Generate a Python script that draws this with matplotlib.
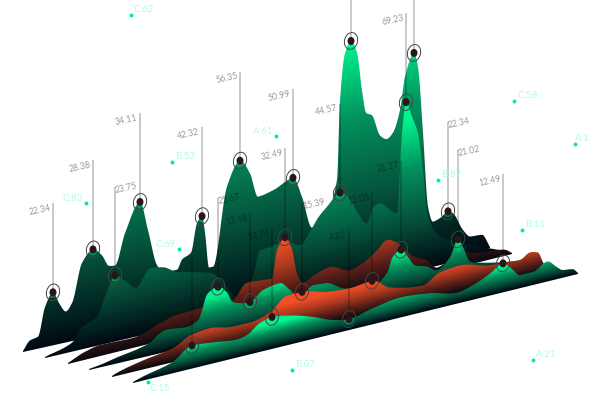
import numpy as np
import matplotlib
matplotlib.use("Agg")
import matplotlib.pyplot as plt
from matplotlib.colors import LinearSegmentedColormap
from matplotlib.patches import Ellipse, Polygon

# ridge outlines: position along the ridge and height above its baseline
r1_x = [23, 30, 38, 45, 53, 59, 66, 72, 82, 93, 102, 109, 115, 125, 140, 148, 157, 165, 177, 182, 191, 197, 202, 205, 209, 213, 227, 240, 250, 258, 273, 293, 302, 312, 325, 337, 340, 345, 351, 357, 362, 366, 372, 380, 387, 393, 400, 405, 414, 418, 423, 428, 433, 440, 448, 453, 463, 470, 482, 490]
r1_h = [0, 9, 11, 39, 52, 40, 30, 37, 75, 86, 78, 66, 65, 95, 123, 93, 56, 47, 47, 56, 61, 89, 95, 78, 42, 42, 119, 142, 127, 102, 105, 113, 92, 59, 69, 101, 180, 226, 237, 224, 185, 162, 158, 136, 131, 136, 157, 189, 211, 196, 129, 54, 38, 40, 45, 42, 23, 15, 14, 0]

r2_x = [45, 72, 82, 97, 105, 115, 123, 137, 143, 150, 163, 177, 193, 213, 227, 238, 246, 253, 260, 270, 285, 300, 312, 318, 327, 340, 348, 358, 367, 373, 380, 388, 397, 402, 406, 412, 418, 423, 428, 438, 450, 470, 490, 500]
r2_h = [0, 8, 21, 28, 46, 65, 59, 48, 56, 64, 62, 54, 50, 44, 27, 15, 20, 31, 56, 57, 60, 52, 66, 75, 84, 95, 89, 70, 58, 72, 75, 68, 61, 140, 170, 154, 136, 98, 52, 30, 22, 12, 4, 0]

r3_x = [68, 85, 100, 133, 140, 160, 177, 203, 220, 233, 247, 260, 272, 277, 285, 292, 297, 303, 317, 330, 350, 363, 377, 387, 398, 402, 415, 427, 437, 447, 463, 477, 495, 505, 512]
r3_h = [0, 7, 10, 9, 10, 17, 21, 22, 20, 22, 36, 35, 34, 61, 72, 58, 33, 22, 28, 31, 23, 27, 36, 44, 38, 33, 20, 14, 4, 7, 12, 9, 7, 5, 0]

r4_x = [89, 100, 117, 140, 150, 160, 167, 187, 198, 208, 218, 227, 233, 250, 263, 280, 290, 300, 313, 327, 343, 360, 375, 387, 393, 401, 408, 415, 427, 437, 450, 458, 463, 470, 482, 500, 520, 525]
r4_h = [0, 1.5, 5, 9, 12, 19, 21, 19, 23, 48, 52, 44, 33, 29, 38, 41, 32, 22, 31, 30, 21, 17, 17, 26, 41, 46, 37, 27, 23, 17, 27, 43, 34, 18, 14, 10, 6, 0]

r5_x = [112, 117, 143, 173, 192, 210, 233, 250, 270, 287, 302, 327, 350, 372, 390, 423, 440, 460, 490, 503, 520, 530, 538, 543, 548]
r5_h = [0, 2, 8, 13, 22, 24, 20, 20, 25, 38, 38, 32, 30, 32, 21, 15, 24, 26, 19, 18, 17, 22, 20, 9, 0]

r6_x = [133, 143, 172, 192, 213, 237, 247, 260, 272, 290, 313, 333, 349, 373, 400, 430, 457, 477, 490, 503, 513, 520, 533, 547, 557, 562, 573, 578]
r6_h = [0, 3, 10, 22, 20, 17, 19, 28, 31, 28, 21, 13, 10, 15, 19, 16, 10, 15, 21, 28, 19, 12, 12, 19, 11, 7, 5, 0]

# pinned values per ridge (empty label = text not visible in the picture)
r1_pin_x = [53, 93, 140, 202, 240, 293, 351, 414, 448]
r1_pin_label = ["22.34", "28.38", "34.11", "42.32", "56.35", "50.99", "", "", "22.34"]
r1_pin_right = [0, 0, 0, 0, 0, 0, 0, 0, 1]
r2_pin_x = [115, 340, 406]
r2_pin_label = ["23.75", "44.57", "69.23"]
r2_pin_right = [1, 0, 0]
r3_pin_x = [285]
r3_pin_label = ["32.49"]
r3_pin_right = [0]
r4_pin_x = [218, 250, 401, 458]
r4_pin_label = ["25.67", "13.48", "21.27", "21.02"]
r4_pin_right = [1, 0, 0, 1]
r5_pin_x = [302, 372]
r5_pin_label = ["15.39", "15.05"]
r5_pin_right = [1, 0]
r6_pin_x = [192, 272, 349, 503]
r6_pin_label = ["", "13.74", "4.82", "12.49"]
r6_pin_right = [0, 0, 0, 0]

# floating points
pt_label = ["C:62", "A:61", "B:53", "C:83", "C:69", "C:58", "A:1", "B:87", "B:11", "A:21", "B:07", "C:15"]
pt_x = [131, 276, 172, 86, 179, 514, 575, 438, 522, 533, 292, 148]
pt_y = [15, 136, 162, 203, 249, 101, 144, 180, 230, 360, 370, 382]
pt_side = ["r", "l", "r", "l", "l", "r", "r", "r", "r", "r", "r", "b"]

green = LinearSegmentedColormap.from_list("g", ["#010a12", "#05523c", "#03905c", "#00f58f"])
red = LinearSegmentedColormap.from_list("r", ["#0c0a10", "#5a1f18", "#b03a20", "#f04e26"])

# start of each baseline, its slope, colormap, share of the peak that reaches the top colour
ridges = [
    (r1_x, r1_h, r1_pin_x, r1_pin_label, r1_pin_right, 351, 0.2227, green, 1.0),
    (r2_x, r2_h, r2_pin_x, r2_pin_label, r2_pin_right, 357, 0.235, green, 0.9),
    (r3_x, r3_h, r3_pin_x, r3_pin_label, r3_pin_right, 363, 0.2477, red, 0.95),
    (r4_x, r4_h, r4_pin_x, r4_pin_label, r4_pin_right, 369, 0.235, green, 0.85),
    (r5_x, r5_h, r5_pin_x, r5_pin_label, r5_pin_right, 376, 0.243, red, 0.8),
    (r6_x, r6_h, r6_pin_x, r6_pin_label, r6_pin_right, 382, 0.245, green, 0.8),
]

plt.rcParams["font.family"] = ["Lato", "DejaVu Sans"]
LEADER = 89


def smooth(x, y, xs):
    # monotone cubic so that peaks do not overshoot
    x = np.asarray(x, float)
    y = np.asarray(y, float)
    d = np.diff(y) / np.diff(x)
    m = np.zeros_like(y)
    for i in range(1, len(y) - 1):
        if d[i - 1] * d[i] > 0:
            w1 = 2 * (x[i + 1] - x[i]) + (x[i] - x[i - 1])
            w2 = (x[i + 1] - x[i]) + 2 * (x[i] - x[i - 1])
            m[i] = (w1 + w2) / (w1 / d[i - 1] + w2 / d[i])
    m[0] = d[0]
    m[-1] = d[-1]
    idx = np.clip(np.searchsorted(x, xs) - 1, 0, len(x) - 2)
    h = x[idx + 1] - x[idx]
    t = (xs - x[idx]) / h
    return (
        (2 * t**3 - 3 * t**2 + 1) * y[idx]
        + (t**3 - 2 * t**2 + t) * h * m[idx]
        + (-2 * t**3 + 3 * t**2) * y[idx + 1]
        + (t**3 - t**2) * h * m[idx + 1]
    )


fig = plt.figure(figsize=(5.9, 4), dpi=100)
ax = fig.add_axes([0, 0, 1, 1])

grid_x, grid_y = np.meshgrid(np.arange(0, 590, 0.5), np.arange(0, 400, 0.5))

for n, (xv, hv, pin_x, pin_label, pin_right, y0, slope, cmap, reach) in enumerate(ridges):
    z = 10 * (n + 1)
    x0 = xv[0]

    def base(v):
        return y0 - slope * (np.asarray(v, float) - x0)

    xs = np.linspace(xv[0], xv[-1], 900)
    hs = np.maximum(smooth(xv, hv, xs), 0)
    top = base(xs) - hs
    outline = np.vstack([np.column_stack([xs, top]), np.column_stack([xs[::-1], base(xs[::-1]) + 1.0])])

    field = (base(grid_x) - grid_y) / (max(hv) * reach)
    im = ax.imshow(field, cmap=cmap, vmin=0, vmax=1, extent=(0, 590, 400, 0), aspect="auto",
                   interpolation="bilinear", zorder=z)
    im.set_clip_path(Polygon(outline, transform=ax.transData))

    for px, label, right in zip(pin_x, pin_label, pin_right):
        py = float(base(px) - smooth(xv, hv, np.array([float(px)]))[0])
        ax.plot([px, px], [py - LEADER, py], color="black", alpha=0.25, lw=1.2, zorder=z + 1, solid_capstyle="butt")
        halo = Ellipse((px, py), 10, 12, angle=15, facecolor="#00f58f" if cmap is green else "#f04e26",
                       alpha=0.35, edgecolor="none", zorder=z + 1.5)
        ax.add_patch(halo)
        halo.set_clip_path(Polygon(outline, transform=ax.transData))
        ax.add_patch(Ellipse((px, py), 7, 8, facecolor="#2a1618", edgecolor="none", zorder=z + 3))
        ax.add_patch(Ellipse((px, py), 13, 17, angle=15, facecolor="none", edgecolor="#444444", lw=0.7, zorder=z + 2))
        if label:
            if right:
                ax.text(px + 1.5, py - LEADER + 8, label, ha="left", va="bottom", rotation=12,
                        rotation_mode="anchor", fontsize=6.3, color="black", alpha=0.4, zorder=z + 1)
            else:
                ax.text(px - 1.5, py - LEADER + 9, label, ha="right", va="bottom", rotation=12,
                        rotation_mode="anchor", fontsize=6.3, color="black", alpha=0.4, zorder=z + 1)

ax.scatter(pt_x, pt_y, s=8, color="#00f08f", linewidths=0, zorder=100)
for label, px, py, side in zip(pt_label, pt_x, pt_y, pt_side):
    if side == "r":
        # keep the text inside the right edge
        ax.text(min(px + 3, 574.5), py - 1, label, ha="left", va="bottom", fontsize=7, color="#b0fde0", zorder=100)
    elif side == "l":
        ax.text(px - 3, py, label, ha="right", va="bottom", fontsize=7, color="#b0fde0", zorder=100)
    else:
        ax.text(px + 2, py + 2, label, ha="left", va="top", fontsize=7, color="#b0fde0", zorder=100)

ax.set_xlim(0, 590)
ax.set_ylim(400, 0)
ax.axis("off")
fig.savefig("out.png", dpi=100, facecolor="white")
